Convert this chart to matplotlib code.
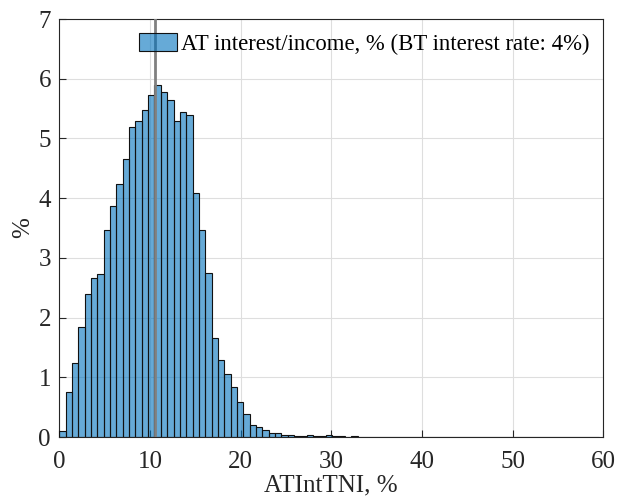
import numpy as np
import matplotlib
matplotlib.use('Agg')
import matplotlib.pyplot as plt
from matplotlib.patches import Patch

# share of households (%) per 0.7-wide bin of AT interest / income
bin_width = 0.7
pct = [0.10, 0.76, 1.24, 1.84, 2.40, 2.66, 2.73, 3.47, 3.87, 4.24,
       4.66, 5.19, 5.30, 5.47, 5.72, 5.89, 5.77, 5.64, 5.30, 5.45,
       5.40, 4.08, 3.46, 2.75, 1.66, 1.29, 1.05, 0.83, 0.58, 0.38,
       0.20, 0.17, 0.11, 0.06, 0.07, 0.035, 0.04, 0.015, 0.015, 0.04,
       0.015, 0.02, 0.035, 0.01, 0.01, 0.008, 0.01, 0.006, 0.008, 0.005,
       0.005, 0.004, 0.005, 0.003, 0.004, 0.003, 0.003, 0.004, 0.003, 0.003,
       0.002, 0.003, 0.002, 0.002, 0.003, 0.002, 0.002, 0.002, 0.002, 0.002,
       0.002, 0.002, 0.002, 0.002, 0.002, 0.002, 0.002, 0.002, 0.002, 0.002,
       0.002, 0.002, 0.002, 0.002, 0.002]
median_val = 10.55
legend_label = 'AT interest/income, % (BT interest rate: 4%)'
xlabel = 'ATIntTNI, %'
ylabel = '%'

plt.rcParams['font.family'] = ['Liberation Serif', 'DejaVu Serif']

bar_blue = (0.0, 0.447, 0.741)
edge_col = '#111111'

fig = plt.figure(figsize=(6.17, 5.01), dpi=100)
ax = fig.add_axes([0.0961, 0.1277, 0.8817, 0.8343])

left_edges = np.arange(len(pct)) * bin_width
ax.bar(left_edges, pct, width=bin_width, align='edge',
       color=bar_blue, alpha=0.6, edgecolor='none', zorder=2)
ax.bar(left_edges, pct, width=bin_width, align='edge',
       facecolor='none', edgecolor=edge_col, linewidth=0.8, zorder=3)
ax.axvline(median_val, color='#808080', linewidth=2, zorder=4)

ax.set_xlim(0, 60)
ax.set_ylim(0, 7)
ax.set_xticks(range(0, 61, 10))
ax.set_yticks(range(0, 8))
ax.tick_params(direction='in', length=5, width=0.8, labelsize=18,
               colors='#262626', top=False, right=False)
ax.tick_params(axis='x', pad=10)
ax.tick_params(axis='y', pad=6)
for lab in ax.get_xticklabels() + ax.get_yticklabels():
    lab.set_color('#262626')
ax.grid(True, color='#dedede', linewidth=0.8, zorder=0)
ax.set_axisbelow(True)
for s in ax.spines.values():
    s.set_color('#262626')
    s.set_linewidth(0.8)

ax.set_xlabel(xlabel, fontsize=18, color='#262626', labelpad=1)
ax.set_ylabel(ylabel, fontsize=18, color='#262626', labelpad=3)

# semi-transparent legend swatch so the median line shows through it
handle = Patch(facecolor=bar_blue + (0.6,), edgecolor=edge_col, linewidth=0.8)
leg = ax.legend([handle], [legend_label], loc='upper left', frameon=False,
                fontsize=16.4, handlelength=1.67, handleheight=0.83,
                handletextpad=0.18, borderpad=0, borderaxespad=0,
                bbox_to_anchor=(0.1465, 0.967))
leg.set_zorder(10)

fig.savefig('out.png', dpi=100)
